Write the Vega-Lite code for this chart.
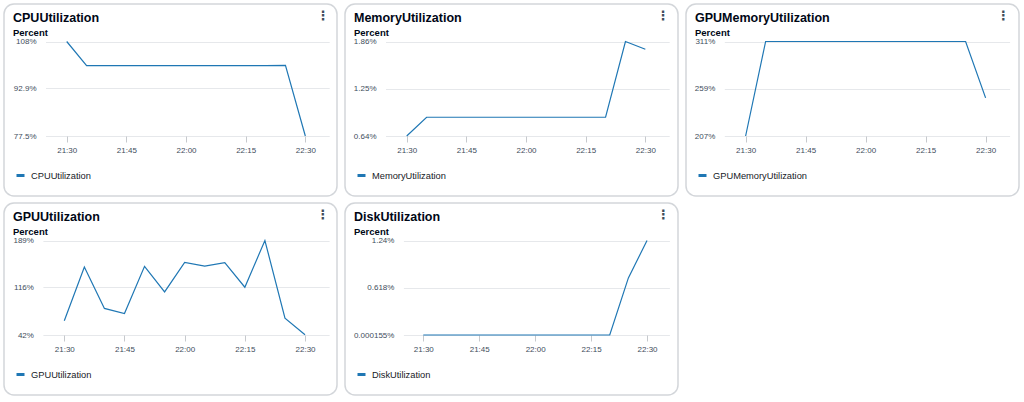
{
  "$schema": "https://vega.github.io/schema/vega-lite/v6.json",
  "padding": {"left": 3, "top": 3, "right": 0, "bottom": 0},
  "background": "#ffffff",
  "columns": 3,
  "spacing": {"row": 7, "column": 8},
  "bounds": "flush",
  "resolve": {"scale": {"color": "independent"}, "legend": {"color": "independent"}},
  "datasets": {
    "cpu": [
      {"time": "2024-01-01T21:30:00", "value": 108, "metric": "CPUUtilization"},
      {"time": "2024-01-01T21:35:00", "value": 100.2, "metric": "CPUUtilization"},
      {"time": "2024-01-01T21:40:00", "value": 100.2, "metric": "CPUUtilization"},
      {"time": "2024-01-01T21:45:00", "value": 100.2, "metric": "CPUUtilization"},
      {"time": "2024-01-01T21:50:00", "value": 100.2, "metric": "CPUUtilization"},
      {"time": "2024-01-01T21:55:00", "value": 100.2, "metric": "CPUUtilization"},
      {"time": "2024-01-01T22:00:00", "value": 100.2, "metric": "CPUUtilization"},
      {"time": "2024-01-01T22:05:00", "value": 100.2, "metric": "CPUUtilization"},
      {"time": "2024-01-01T22:10:00", "value": 100.2, "metric": "CPUUtilization"},
      {"time": "2024-01-01T22:15:00", "value": 100.2, "metric": "CPUUtilization"},
      {"time": "2024-01-01T22:20:00", "value": 100.2, "metric": "CPUUtilization"},
      {"time": "2024-01-01T22:25:00", "value": 100.3, "metric": "CPUUtilization"},
      {"time": "2024-01-01T22:30:00", "value": 77.5, "metric": "CPUUtilization"}
    ],
    "mem": [
      {"time": "2024-01-01T21:30:00", "value": 0.64, "metric": "MemoryUtilization"},
      {"time": "2024-01-01T21:35:00", "value": 0.882, "metric": "MemoryUtilization"},
      {"time": "2024-01-01T21:40:00", "value": 0.882, "metric": "MemoryUtilization"},
      {"time": "2024-01-01T21:45:00", "value": 0.882, "metric": "MemoryUtilization"},
      {"time": "2024-01-01T21:50:00", "value": 0.882, "metric": "MemoryUtilization"},
      {"time": "2024-01-01T21:55:00", "value": 0.882, "metric": "MemoryUtilization"},
      {"time": "2024-01-01T22:00:00", "value": 0.882, "metric": "MemoryUtilization"},
      {"time": "2024-01-01T22:05:00", "value": 0.882, "metric": "MemoryUtilization"},
      {"time": "2024-01-01T22:10:00", "value": 0.882, "metric": "MemoryUtilization"},
      {"time": "2024-01-01T22:15:00", "value": 0.882, "metric": "MemoryUtilization"},
      {"time": "2024-01-01T22:20:00", "value": 0.882, "metric": "MemoryUtilization"},
      {"time": "2024-01-01T22:25:00", "value": 1.86, "metric": "MemoryUtilization"},
      {"time": "2024-01-01T22:30:00", "value": 1.76, "metric": "MemoryUtilization"}
    ],
    "gpumem": [
      {"time": "2024-01-01T21:30:00", "value": 207, "metric": "GPUMemoryUtilization"},
      {"time": "2024-01-01T21:35:00", "value": 311, "metric": "GPUMemoryUtilization"},
      {"time": "2024-01-01T21:40:00", "value": 311, "metric": "GPUMemoryUtilization"},
      {"time": "2024-01-01T21:45:00", "value": 311, "metric": "GPUMemoryUtilization"},
      {"time": "2024-01-01T21:50:00", "value": 311, "metric": "GPUMemoryUtilization"},
      {"time": "2024-01-01T21:55:00", "value": 311, "metric": "GPUMemoryUtilization"},
      {"time": "2024-01-01T22:00:00", "value": 311, "metric": "GPUMemoryUtilization"},
      {"time": "2024-01-01T22:05:00", "value": 311, "metric": "GPUMemoryUtilization"},
      {"time": "2024-01-01T22:10:00", "value": 311, "metric": "GPUMemoryUtilization"},
      {"time": "2024-01-01T22:15:00", "value": 311, "metric": "GPUMemoryUtilization"},
      {"time": "2024-01-01T22:20:00", "value": 311, "metric": "GPUMemoryUtilization"},
      {"time": "2024-01-01T22:25:00", "value": 311, "metric": "GPUMemoryUtilization"},
      {"time": "2024-01-01T22:30:00", "value": 249, "metric": "GPUMemoryUtilization"}
    ],
    "gpu": [
      {"time": "2024-01-01T21:30:00", "value": 64.2, "metric": "GPUUtilization"},
      {"time": "2024-01-01T21:35:00", "value": 147.7, "metric": "GPUUtilization"},
      {"time": "2024-01-01T21:40:00", "value": 83.3, "metric": "GPUUtilization"},
      {"time": "2024-01-01T21:45:00", "value": 75.5, "metric": "GPUUtilization"},
      {"time": "2024-01-01T21:50:00", "value": 148.8, "metric": "GPUUtilization"},
      {"time": "2024-01-01T21:55:00", "value": 109.1, "metric": "GPUUtilization"},
      {"time": "2024-01-01T22:00:00", "value": 155, "metric": "GPUUtilization"},
      {"time": "2024-01-01T22:05:00", "value": 149.3, "metric": "GPUUtilization"},
      {"time": "2024-01-01T22:10:00", "value": 154.4, "metric": "GPUUtilization"},
      {"time": "2024-01-01T22:15:00", "value": 116.3, "metric": "GPUUtilization"},
      {"time": "2024-01-01T22:20:00", "value": 189, "metric": "GPUUtilization"},
      {"time": "2024-01-01T22:25:00", "value": 68.3, "metric": "GPUUtilization"},
      {"time": "2024-01-01T22:30:00", "value": 42.5, "metric": "GPUUtilization"}
    ],
    "disk": [
      {"time": "2024-01-01T21:30:00", "value": 0.000155, "metric": "DiskUtilization"},
      {"time": "2024-01-01T21:35:00", "value": 0.000155, "metric": "DiskUtilization"},
      {"time": "2024-01-01T21:40:00", "value": 0.000155, "metric": "DiskUtilization"},
      {"time": "2024-01-01T21:45:00", "value": 0.000155, "metric": "DiskUtilization"},
      {"time": "2024-01-01T21:50:00", "value": 0.000155, "metric": "DiskUtilization"},
      {"time": "2024-01-01T21:55:00", "value": 0.000155, "metric": "DiskUtilization"},
      {"time": "2024-01-01T22:00:00", "value": 0.000155, "metric": "DiskUtilization"},
      {"time": "2024-01-01T22:05:00", "value": 0.000155, "metric": "DiskUtilization"},
      {"time": "2024-01-01T22:10:00", "value": 0.000155, "metric": "DiskUtilization"},
      {"time": "2024-01-01T22:15:00", "value": 0.000155, "metric": "DiskUtilization"},
      {"time": "2024-01-01T22:20:00", "value": 0.000155, "metric": "DiskUtilization"},
      {"time": "2024-01-01T22:25:00", "value": 0.749, "metric": "DiskUtilization"},
      {"time": "2024-01-01T22:30:00", "value": 1.24, "metric": "DiskUtilization"}
    ]
  },
  "concat": [
    {
      "width": 333, "height": 192,
      "title": {"text": "CPUUtilization", "subtitle": "Percent"},
      "data": {"name": "cpu"},
      "resolve": {"axis": {"x": "independent"}},
      "encoding": {
        "y": {"field": "value", "type": "quantitative",
          "scale": {"domain": [77.5, 108], "range": [132, 37.5], "nice": false, "zero": false},
          "axis": {"offset": -41.5, "title": null, "values": [77.5, 92.9, 108], "labelExpr": "datum.value + '%'", "grid": true, "ticks": false, "domain": false, "labelPadding": 9.5}}
      },
      "layer": [
        {
          "mark": {"type": "line", "strokeWidth": 1.2},
          "encoding": {
            "x": {"field": "time", "type": "temporal",
              "scale": {"domain": [{"year": 2024, "month": 1, "date": 1, "hours": 21, "minutes": 24, "seconds": 40}, {"year": 2024, "month": 1, "date": 1, "hours": 22, "minutes": 36}], "range": [41.5, 325.2]},
              "axis": {"orient": "bottom", "offset": -60, "title": null, "format": "%H:%M", "grid": false, "domain": false, "tickSize": 6, "labelPadding": 4,
                "values": [{"year": 2024, "month": 1, "date": 1, "hours": 21, "minutes": 30}, {"year": 2024, "month": 1, "date": 1, "hours": 21, "minutes": 45}, {"year": 2024, "month": 1, "date": 1, "hours": 22, "minutes": 0}, {"year": 2024, "month": 1, "date": 1, "hours": 22, "minutes": 15}, {"year": 2024, "month": 1, "date": 1, "hours": 22, "minutes": 30}]}},
            "color": {"field": "metric", "type": "nominal", "scale": {"range": ["#1f77b4"]}, "legend": {"title": null}}
          }
        },
        {
          "mark": {"type": "line", "opacity": 0},
          "encoding": {
            "x": {"field": "time", "type": "temporal", "axis": {"orient": "top", "offset": -18, "labels": false, "ticks": false, "domain": false, "grid": false, "title": "⋮", "titleAnchor": "end", "titlePadding": 0}}
          }
        }
      ]
    },
    {
      "width": 333, "height": 192,
      "title": {"text": "MemoryUtilization", "subtitle": "Percent"},
      "data": {"name": "mem"},
      "resolve": {"axis": {"x": "independent"}},
      "encoding": {
        "y": {"field": "value", "type": "quantitative",
          "scale": {"domain": [0.64, 1.86], "range": [132, 37.5], "nice": false, "zero": false},
          "axis": {"offset": -40.5, "title": null, "values": [0.64, 1.25, 1.86], "labelExpr": "datum.value + '%'", "grid": true, "ticks": false, "domain": false, "labelPadding": 9.5}}
      },
      "layer": [
        {
          "mark": {"type": "line", "strokeWidth": 1.2},
          "encoding": {
            "x": {"field": "time", "type": "temporal",
              "scale": {"domain": [{"year": 2024, "month": 1, "date": 1, "hours": 21, "minutes": 24, "seconds": 40}, {"year": 2024, "month": 1, "date": 1, "hours": 22, "minutes": 36}], "range": [40.5, 324.2]},
              "axis": {"orient": "bottom", "offset": -60, "title": null, "format": "%H:%M", "grid": false, "domain": false, "tickSize": 6, "labelPadding": 4,
                "values": [{"year": 2024, "month": 1, "date": 1, "hours": 21, "minutes": 30}, {"year": 2024, "month": 1, "date": 1, "hours": 21, "minutes": 45}, {"year": 2024, "month": 1, "date": 1, "hours": 22, "minutes": 0}, {"year": 2024, "month": 1, "date": 1, "hours": 22, "minutes": 15}, {"year": 2024, "month": 1, "date": 1, "hours": 22, "minutes": 30}]}},
            "color": {"field": "metric", "type": "nominal", "scale": {"range": ["#1f77b4"]}, "legend": {"title": null}}
          }
        },
        {
          "mark": {"type": "line", "opacity": 0},
          "encoding": {
            "x": {"field": "time", "type": "temporal", "axis": {"orient": "top", "offset": -18, "labels": false, "ticks": false, "domain": false, "grid": false, "title": "⋮", "titleAnchor": "end", "titlePadding": 0}}
          }
        }
      ]
    },
    {
      "width": 333, "height": 192,
      "title": {"text": "GPUMemoryUtilization", "subtitle": "Percent"},
      "data": {"name": "gpumem"},
      "resolve": {"axis": {"x": "independent"}},
      "encoding": {
        "y": {"field": "value", "type": "quantitative",
          "scale": {"domain": [207, 311], "range": [132, 37.5], "nice": false, "zero": false},
          "axis": {"offset": -38.3, "title": null, "values": [207, 259, 311], "labelExpr": "datum.value + '%'", "grid": true, "ticks": false, "domain": false, "labelPadding": 9.5}}
      },
      "layer": [
        {
          "mark": {"type": "line", "strokeWidth": 1.2},
          "encoding": {
            "x": {"field": "time", "type": "temporal",
              "scale": {"domain": [{"year": 2024, "month": 1, "date": 1, "hours": 21, "minutes": 24, "seconds": 40}, {"year": 2024, "month": 1, "date": 1, "hours": 22, "minutes": 36}], "range": [38.3, 323.6]},
              "axis": {"orient": "bottom", "offset": -60, "title": null, "format": "%H:%M", "grid": false, "domain": false, "tickSize": 6, "labelPadding": 4,
                "values": [{"year": 2024, "month": 1, "date": 1, "hours": 21, "minutes": 30}, {"year": 2024, "month": 1, "date": 1, "hours": 21, "minutes": 45}, {"year": 2024, "month": 1, "date": 1, "hours": 22, "minutes": 0}, {"year": 2024, "month": 1, "date": 1, "hours": 22, "minutes": 15}, {"year": 2024, "month": 1, "date": 1, "hours": 22, "minutes": 30}]}},
            "color": {"field": "metric", "type": "nominal", "scale": {"range": ["#1f77b4"]}, "legend": {"title": null}}
          }
        },
        {
          "mark": {"type": "line", "opacity": 0},
          "encoding": {
            "x": {"field": "time", "type": "temporal", "axis": {"orient": "top", "offset": -18, "labels": false, "ticks": false, "domain": false, "grid": false, "title": "⋮", "titleAnchor": "end", "titlePadding": 0}}
          }
        }
      ]
    },
    {
      "width": 333, "height": 192,
      "title": {"text": "GPUUtilization", "subtitle": "Percent"},
      "data": {"name": "gpu"},
      "resolve": {"axis": {"x": "independent"}},
      "encoding": {
        "y": {"field": "value", "type": "quantitative",
          "scale": {"domain": [42, 189], "range": [132, 37.5], "nice": false, "zero": false},
          "axis": {"offset": -38.9, "title": null, "values": [42, 116, 189], "labelExpr": "datum.value + '%'", "grid": true, "ticks": false, "domain": false, "labelPadding": 9.5}}
      },
      "layer": [
        {
          "mark": {"type": "line", "strokeWidth": 1.2},
          "encoding": {
            "x": {"field": "time", "type": "temporal",
              "scale": {"domain": [{"year": 2024, "month": 1, "date": 1, "hours": 21, "minutes": 24, "seconds": 40}, {"year": 2024, "month": 1, "date": 1, "hours": 22, "minutes": 36}], "range": [38.9, 325.1]},
              "axis": {"orient": "bottom", "offset": -60, "title": null, "format": "%H:%M", "grid": false, "domain": false, "tickSize": 6, "labelPadding": 4,
                "values": [{"year": 2024, "month": 1, "date": 1, "hours": 21, "minutes": 30}, {"year": 2024, "month": 1, "date": 1, "hours": 21, "minutes": 45}, {"year": 2024, "month": 1, "date": 1, "hours": 22, "minutes": 0}, {"year": 2024, "month": 1, "date": 1, "hours": 22, "minutes": 15}, {"year": 2024, "month": 1, "date": 1, "hours": 22, "minutes": 30}]}},
            "color": {"field": "metric", "type": "nominal", "scale": {"range": ["#1f77b4"]}, "legend": {"title": null}}
          }
        },
        {
          "mark": {"type": "line", "opacity": 0},
          "encoding": {
            "x": {"field": "time", "type": "temporal", "axis": {"orient": "top", "offset": -18, "labels": false, "ticks": false, "domain": false, "grid": false, "title": "⋮", "titleAnchor": "end", "titlePadding": 0}}
          }
        }
      ]
    },
    {
      "width": 333, "height": 192,
      "title": {"text": "DiskUtilization", "subtitle": "Percent"},
      "data": {"name": "disk"},
      "resolve": {"axis": {"x": "independent"}},
      "encoding": {
        "y": {"field": "value", "type": "quantitative",
          "scale": {"domain": [0.000155, 1.24], "range": [132, 37.5], "nice": false, "zero": false},
          "axis": {"offset": -58.4, "title": null, "values": [0.000155, 0.618, 1.24], "labelExpr": "datum.value + '%'", "grid": true, "ticks": false, "domain": false, "labelPadding": 9.5}}
      },
      "layer": [
        {
          "mark": {"type": "line", "strokeWidth": 1.2},
          "encoding": {
            "x": {"field": "time", "type": "temporal",
              "scale": {"domain": [{"year": 2024, "month": 1, "date": 1, "hours": 21, "minutes": 24, "seconds": 40}, {"year": 2024, "month": 1, "date": 1, "hours": 22, "minutes": 36}], "range": [58.4, 324.4]},
              "axis": {"orient": "bottom", "offset": -60, "title": null, "format": "%H:%M", "grid": false, "domain": false, "tickSize": 6, "labelPadding": 4,
                "values": [{"year": 2024, "month": 1, "date": 1, "hours": 21, "minutes": 30}, {"year": 2024, "month": 1, "date": 1, "hours": 21, "minutes": 45}, {"year": 2024, "month": 1, "date": 1, "hours": 22, "minutes": 0}, {"year": 2024, "month": 1, "date": 1, "hours": 22, "minutes": 15}, {"year": 2024, "month": 1, "date": 1, "hours": 22, "minutes": 30}]}},
            "color": {"field": "metric", "type": "nominal", "scale": {"range": ["#1f77b4"]}, "legend": {"title": null}}
          }
        },
        {
          "mark": {"type": "line", "opacity": 0},
          "encoding": {
            "x": {"field": "time", "type": "temporal", "axis": {"orient": "top", "offset": -18, "labels": false, "ticks": false, "domain": false, "grid": false, "title": "⋮", "titleAnchor": "end", "titlePadding": 0}}
          }
        }
      ]
    }
  ],
  "config": {
    "font": "Liberation Sans",
    "view": {"stroke": "#d3d6da", "strokeWidth": 1.5, "cornerRadius": 10, "fill": "#ffffff"},
    "axis": {"labelFont": "Liberation Sans", "labelFontSize": 8, "labelColor": "#414d5c", "gridColor": "#e6e8eb", "gridWidth": 1, "tickColor": "#c6c9cd", "titleFont": "DejaVu Sans", "titleFontSize": 13, "titleFontWeight": "bold", "titleColor": "#414d5c"},
    "title": {"anchor": "start", "frame": "group", "font": "Liberation Sans", "fontSize": 12.5, "fontWeight": "bold", "color": "#000716", "subtitleFont": "Liberation Sans", "subtitleFontSize": 9.5, "subtitleFontWeight": "bold", "subtitleColor": "#000716", "subtitlePadding": 3, "offset": -33, "dx": 9},
    "legend": {"orient": "none", "legendX": 11, "legendY": 166, "symbolType": "stroke", "symbolStrokeWidth": 3, "symbolSize": 64, "labelFont": "Liberation Sans", "labelFontSize": 9.3, "labelColor": "#16191f", "labelOffset": 5, "padding": 0}
  }
}
